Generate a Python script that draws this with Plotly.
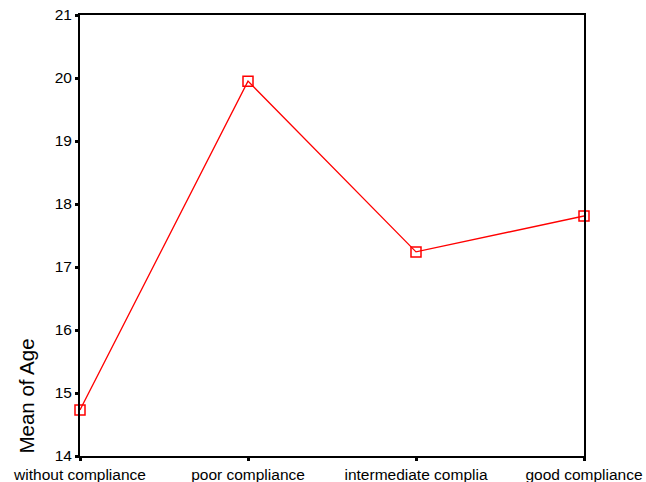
import plotly.graph_objects as go

categories = ["without compliance", "poor compliance", "intermediate complia", "good compliance"]
mean_age = [14.73, 19.95, 17.24, 17.81]
y_ticks = [14, 15, 16, 17, 18, 19, 20, 21]

fig = go.Figure()
fig.add_trace(go.Scatter(
    x=list(range(len(categories))), y=mean_age, mode="lines+markers",
    line=dict(color="#ff0000", width=1.3),
    marker=dict(symbol="square-open", size=10, color="#ff0000", line=dict(width=1.5)),
    cliponaxis=False, showlegend=False,
))
fig.update_layout(
    width=646, height=482, autosize=False,
    margin=dict(l=80, r=62, t=15, b=26),
    paper_bgcolor="white", plot_bgcolor="white",
    font=dict(family="Liberation Sans, Arial, sans-serif", size=15.5, color="black"),
    xaxis=dict(range=[0, 3], tickmode="array", tickvals=list(range(len(categories))),
               ticktext=categories, showgrid=False, zeroline=False, automargin=False,
               showline=True, linecolor="black", linewidth=2, mirror=True,
               ticks="outside", ticklen=3, tickwidth=3, tickcolor="black",
               tickfont=dict(size=15.5)),
    yaxis=dict(range=[14, 21], tickvals=y_ticks, showgrid=False, zeroline=False, automargin=False,
               showline=True, linecolor="black", linewidth=2, mirror=True,
               ticks="outside", ticklen=3, tickwidth=3, tickcolor="black",
               tickfont=dict(size=15.5)),
    annotations=[dict(text="Mean of Age", xref="paper", yref="paper",
                      x=-0.107, y=0.0, xanchor="center", yanchor="bottom",
                      textangle=-90, showarrow=False, font=dict(size=20.5))],
)
fig.write_html("out.html", config={"displayModeBar": False},
               post_script="document.body.style.margin='0px';")
